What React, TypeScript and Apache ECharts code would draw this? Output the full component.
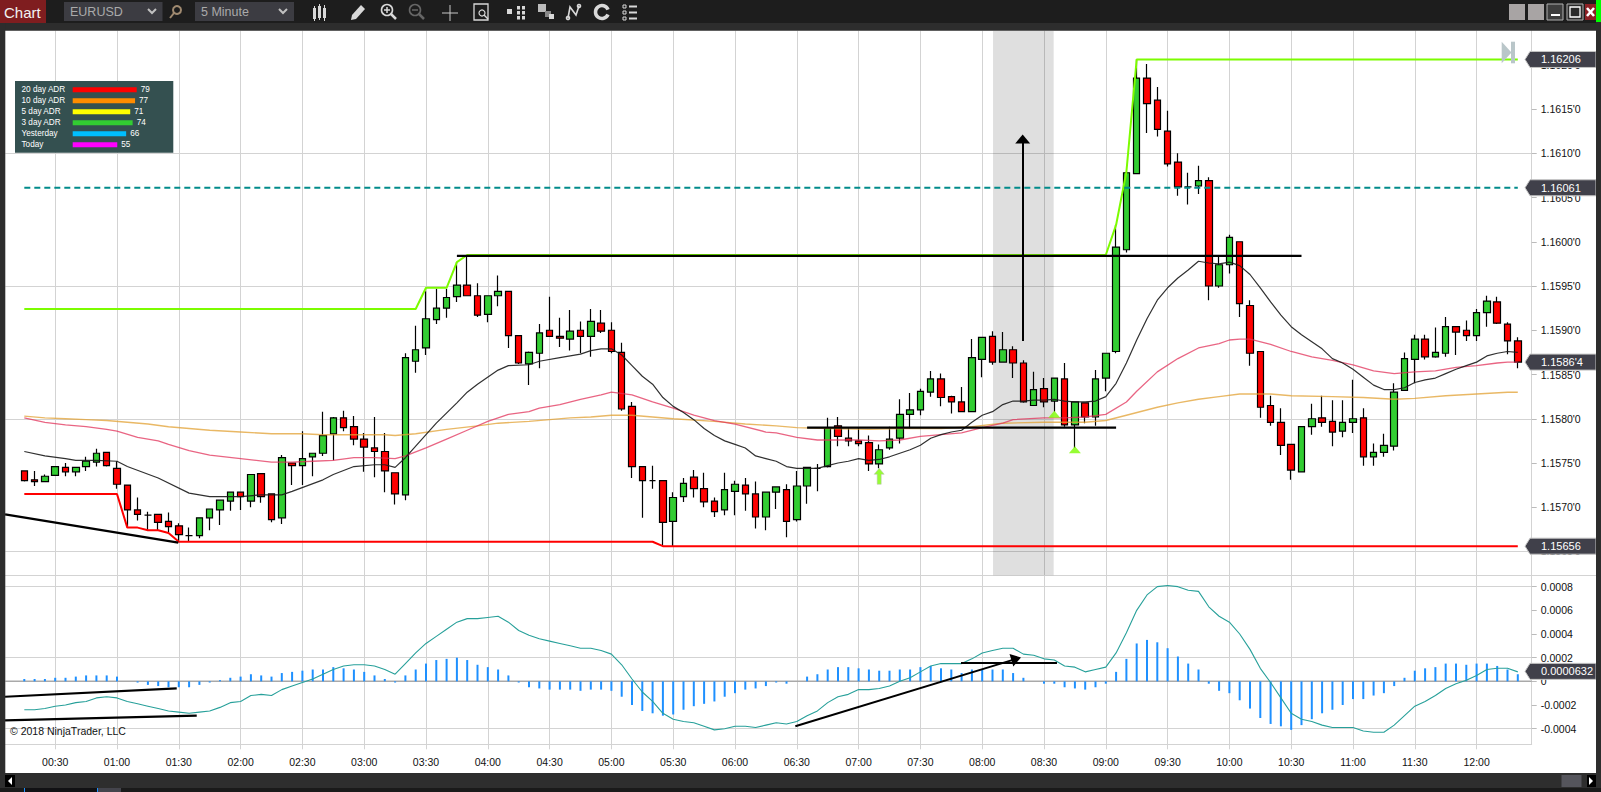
import React, { useEffect, useRef } from "react";
import * as echarts from "echarts";

// ---------- data ----------
const opens = [
1.15741,1.15731,1.15729,1.15736,1.15745,1.15740,1.15746,1.15751,1.15762,1.15744,
1.15725,1.15697,1.15691,1.15692,1.15684,1.15679,1.15668,1.15668,1.15688,1.15697,
1.15707,1.15717,1.15707,1.15738,1.15715,1.15688,1.15750,1.15747,1.15757,1.15761,
1.15783,1.15801,1.15791,1.15777,1.15767,1.15763,1.15739,1.15714,1.15865,1.15880,
1.15912,1.15925,1.15938,1.15951,1.15939,1.15918,1.15939,1.15944,1.15894,1.15862,
1.15874,1.15900,1.15893,1.15890,1.15900,1.15893,1.15908,1.15900,1.15875,1.15814,
1.15746,1.15730,1.15730,1.15684,1.15712,1.15734,1.15721,1.15707,1.15697,1.15718,
1.15725,1.15715,1.15689,1.15717,1.15720,1.15686,1.15724,1.15744,1.15746,1.15792,
1.15778,1.15775,1.15773,1.15749,1.15767,1.15778,1.15805,1.15810,1.15830,1.15845,
1.15825,1.15819,1.15808,1.15867,1.15893,1.15864,1.15878,1.15863,1.15815,1.15834,
1.15820,1.15845,1.15793,1.15818,1.15802,1.15846,1.15876,1.15991,1.16077,1.16185,
1.16160,1.16125,1.16090,1.16062,1.16063,1.16069,1.15950,1.15974,1.16000,1.15928,
1.15876,1.15815,1.15796,1.15771,1.15740,1.15791,1.15801,1.15797,1.15786,1.15796,
1.15801,1.15757,1.15762,1.15769,1.15832,1.15867,1.15890,1.15870,1.15874,1.15904,
1.15900,1.15894,1.15920,1.15932,1.15907,1.15888];
const closes = [
1.15730,1.15729,1.15735,1.15746,1.15740,1.15745,1.15752,1.15761,1.15747,1.15726,
1.15697,1.15692,1.15691,1.15683,1.15678,1.15669,1.15668,1.15688,1.15698,1.15708,
1.15717,1.15712,1.15737,1.15712,1.15686,1.15756,1.15747,1.15755,1.15761,1.15781,
1.15801,1.15790,1.15777,1.15768,1.15763,1.15741,1.15715,1.15869,1.15878,1.15913,
1.15925,1.15937,1.15951,1.15939,1.15917,1.15939,1.15944,1.15894,1.15863,1.15875,
1.15897,1.15893,1.15891,1.15899,1.15893,1.15910,1.15899,1.15876,1.15811,1.15746,
1.15730,1.15730,1.15683,1.15711,1.15727,1.15721,1.15706,1.15695,1.15720,1.15726,
1.15715,1.15689,1.15717,1.15723,1.15684,1.15724,1.15745,1.15744,1.15790,1.15780,
1.15775,1.15772,1.15749,1.15765,1.15777,1.15805,1.15810,1.15831,1.15845,1.15824,
1.15819,1.15808,1.15869,1.15892,1.15864,1.15878,1.15863,1.15819,1.15833,1.15819,
1.15846,1.15793,1.15819,1.15802,1.15845,1.15874,1.15994,1.16078,1.16185,1.16156,
1.16127,1.16088,1.16062,1.16062,1.16069,1.15950,1.15974,1.16005,1.15930,1.15874,
1.15813,1.15796,1.15770,1.15742,1.15791,1.15800,1.15796,1.15785,1.15796,1.15800,
1.15757,1.15762,1.15770,1.15830,1.15868,1.15890,1.15870,1.15875,1.15904,1.15898,
1.15894,1.15920,1.15933,1.15908,1.15888,1.15864];
const lows = [
1.15729,1.15724,1.15729,1.15736,1.15735,1.15735,1.15741,1.15746,1.15746,1.15721,
1.15677,1.15685,1.15674,1.15674,1.15672,1.15662,1.15661,1.15665,1.15674,1.15680,
1.15696,1.15697,1.15700,1.15705,1.15683,1.15681,1.15725,1.15725,1.15735,1.15758,
1.15753,1.15786,1.15770,1.15740,1.15734,1.15717,1.15703,1.15708,1.15852,1.15872,
1.15907,1.15914,1.15932,1.15939,1.15915,1.15909,1.15927,1.15880,1.15862,1.15838,
1.15857,1.15893,1.15881,1.15877,1.15874,1.15870,1.15897,1.15874,1.15809,1.15733,
1.15688,1.15721,1.15656,1.15656,1.15706,1.15711,1.15700,1.15689,1.15691,1.15691,
1.15696,1.15676,1.15674,1.15698,1.15666,1.15684,1.15704,1.15718,1.15745,1.15769,
1.15769,1.15769,1.15741,1.15744,1.15765,1.15772,1.15789,1.15804,1.15825,1.15814,
1.15806,1.15808,1.15808,1.15847,1.15861,1.15864,1.15846,1.15818,1.15815,1.15813,
1.15808,1.15791,1.15767,1.15795,1.15792,1.15831,1.15874,1.15988,1.16077,1.16123,
1.16119,1.16085,1.16052,1.16042,1.16054,1.15934,1.15948,1.15964,1.15915,1.15860,
1.15801,1.15792,1.15759,1.15731,1.15740,1.15782,1.15791,1.15769,1.15779,1.15784,
1.15747,1.15747,1.15757,1.15764,1.15832,1.15840,1.15867,1.15869,1.15870,1.15872,
1.15888,1.15888,1.15904,1.15907,1.15873,1.15857];
const highs = [
1.15741,1.15741,1.15737,1.15746,1.15750,1.15745,1.15757,1.15766,1.15762,1.15752,
1.15725,1.15711,1.15695,1.15692,1.15694,1.15682,1.15677,1.15688,1.15698,1.15708,
1.15717,1.15717,1.15737,1.15738,1.15715,1.15759,1.15750,1.15786,1.15761,1.15808,
1.15802,1.15809,1.15803,1.15784,1.15802,1.15784,1.15739,1.15874,1.15905,1.15944,
1.15947,1.15947,1.15977,1.15985,1.15953,1.15939,1.15962,1.15944,1.15894,1.15876,
1.15907,1.15938,1.15914,1.15923,1.15910,1.15924,1.15923,1.15909,1.15886,1.15819,
1.15746,1.15747,1.15730,1.15717,1.15733,1.15742,1.15739,1.15711,1.15739,1.15730,
1.15733,1.15729,1.15717,1.15723,1.15726,1.15741,1.15745,1.15749,1.15801,1.15802,
1.15790,1.15790,1.15781,1.15771,1.15791,1.15822,1.15829,1.15834,1.15854,1.15851,
1.15826,1.15836,1.15890,1.15892,1.15899,1.15898,1.15882,1.15866,1.15853,1.15846,
1.15846,1.15863,1.15819,1.15818,1.15855,1.15874,1.16019,1.16079,1.16206,1.16201,
1.16175,1.16148,1.16100,1.16078,1.16086,1.16073,1.15983,1.16008,1.16000,1.15934,
1.15876,1.15826,1.15812,1.15771,1.15791,1.15817,1.15826,1.15821,1.15821,1.15844,
1.15812,1.15772,1.15783,1.15840,1.15875,1.15895,1.15895,1.15903,1.15915,1.15904,
1.15911,1.15924,1.15939,1.15938,1.15909,1.15892];

// [bar number, value] readings of the moving averages
const blackMa: number[][] = [[0,1.15763],[2,1.15758],[4,1.15755],[5,1.15753],[7,1.15753],[9,1.15752],[10,1.15746],[13,1.15733],[16,1.15716],[18,1.15712],[21,1.15712],[23,1.15714],[25,1.15714],[26,1.15718],[29,1.15731],[30,1.15737],[32,1.15746],[34,1.15748],[35,1.15748],[36,1.15745],[37,1.15756],[39,1.15782],[40,1.15795],[42,1.15818],[43,1.15830],[44,1.15839],[46,1.15855],[47,1.15860],[49,1.15861],[50,1.15865],[52,1.15869],[54,1.15873],[55,1.15877],[56,1.15879],[57,1.15879],[58,1.15872],[59,1.15860],[60,1.15848],[61,1.15839],[62,1.15824],[63,1.15814],[64,1.15807],[65,1.15799],[66,1.15789],[67,1.15781],[68,1.15775],[69,1.15771],[70,1.15767],[71,1.15758],[72,1.15755],[73,1.15752],[74,1.15746],[75,1.15744],[76,1.15744],[77,1.15744],[78,1.15747],[79,1.15750],[80,1.15752],[81,1.15755],[82,1.15753],[83,1.15754],[84,1.15757],[85,1.15761],[86,1.15765],[87,1.15770],[88,1.15778],[89,1.15782],[90,1.15785],[91,1.15787],[92,1.15796],[93,1.15804],[94,1.15808],[95,1.15816],[96,1.15820],[97,1.15820],[98,1.15821],[99,1.15821],[100,1.15822],[101,1.15820],[102,1.15819],[103,1.15819],[104,1.15820],[105,1.15825],[106,1.15840],[107,1.15863],[108,1.15889],[109,1.15913],[110,1.15934],[111,1.15948],[112,1.15959],[113,1.15968],[114,1.15978],[115,1.15976],[116,1.15975],[117,1.15977],[118,1.15973],[119,1.15963],[120,1.15948],[121,1.15932],[122,1.15917],[123,1.15904],[124,1.15895],[125,1.15887],[126,1.15879],[127,1.15868],[128,1.15863],[129,1.15856],[130,1.15847],[131,1.15838],[132,1.15833],[133,1.15833],[134,1.15835],[135,1.15841],[136,1.15844],[137,1.15846],[138,1.15851],[139,1.15856],[140,1.15860],[141,1.15864],[142,1.15871],[143,1.15874],[144,1.15876],[145,1.15875]];
const crimsonMa: number[][] = [[0,1.15801],[2,1.15796],[4,1.15793],[6,1.15791],[8,1.15788],[9,1.15786],[11,1.15779],[13,1.15775],[14,1.15771],[16,1.15764],[18,1.15759],[21,1.15755],[24,1.15751],[26,1.15751],[28,1.15752],[30,1.15753],[32,1.15756],[34,1.15756],[36,1.15755],[37,1.15758],[39,1.15767],[41,1.15777],[43,1.15787],[45,1.15797],[47,1.15805],[49,1.15808],[50,1.15812],[52,1.15816],[54,1.15822],[56,1.15827],[57,1.15830],[59,1.15827],[61,1.15819],[63,1.15812],[65,1.15804],[67,1.15798],[69,1.15794],[72,1.15785],[73,1.15784],[75,1.15779],[77,1.15776],[79,1.15776],[81,1.15776],[83,1.15775],[85,1.15776],[87,1.15780],[89,1.15782],[91,1.15784],[93,1.15790],[95,1.15795],[96,1.15799],[99,1.15801],[101,1.15801],[103,1.15802],[105,1.15805],[107,1.15819],[108,1.15831],[110,1.15853],[112,1.15868],[114,1.15880],[116,1.15885],[117,1.15889],[118,1.15890],[119,1.15890],[121,1.15884],[123,1.15876],[125,1.15870],[127,1.15866],[129,1.15861],[131,1.15854],[133,1.15851],[135,1.15853],[137,1.15854],[139,1.15858],[141,1.15860],[143,1.15863],[144,1.15864],[145,1.15864]];
const orangeMa: number[][] = [[0,1.15803],[2,1.15801],[4,1.15800],[6,1.15799],[8,1.15798],[10,1.15796],[12,1.15794],[14,1.15791],[18,1.15787],[21,1.15785],[24,1.15783],[27,1.15783],[29,1.15782],[32,1.15782],[35,1.15782],[36,1.15781],[38,1.15783],[41,1.15788],[44,1.15792],[46,1.15795],[49,1.15797],[53,1.15801],[55,1.15802],[57,1.15804],[59,1.15804],[61,1.15802],[63,1.15800],[67,1.15797],[70,1.15794],[73,1.15792],[75,1.15790],[78,1.15789],[82,1.15788],[85,1.15789],[89,1.15789],[92,1.15791],[95,1.15795],[99,1.15796],[103,1.15796],[105,1.15798],[107,1.15804],[110,1.15813],[112,1.15818],[114,1.15822],[116,1.15825],[118,1.15828],[121,1.15828],[123,1.15826],[127,1.15825],[130,1.15824],[133,1.15822],[135,1.15823],[138,1.15826],[141,1.15828],[144,1.15830],[145,1.15830]];

const highOfDay: number[][] = [[0,1.15924],[38,1.15924],[39,1.15948],[41,1.15948],[42,1.15977],[43,1.15985],[105,1.15985],[106,1.16019],[107,1.16079],[108,1.16206],[145,1.16206]];
const lowOfDay: number[][] = [[0,1.15715],[9,1.15715],[10,1.15677],[11,1.15677],[12,1.15674],[13,1.15674],[14,1.15671],[15,1.15661],[61,1.15661],[62,1.15656],[145,1.15656]];
const dashedLevel: number[][] = [[0,1.16061],[145,1.16061]];

const macdHist = [
0.00002,0.00002,0.00002,0.00003,0.00003,0.00004,0.00005,0.00005,0.00005,0.00004,
0.00000,-0.00001,-0.00003,-0.00004,-0.00005,-0.00005,-0.00005,-0.00003,-0.00001,0.00001,
0.00003,0.00004,0.00006,0.00005,0.00004,0.00007,0.00008,0.00009,0.00010,0.00010,
0.00012,0.00011,0.00010,0.00008,0.00005,0.00002,-0.00001,0.00005,0.00010,0.00015,
0.00018,0.00019,0.00020,0.00018,0.00014,0.00012,0.00010,0.00005,-0.00001,-0.00005,
-0.00006,-0.00007,-0.00007,-0.00007,-0.00008,-0.00007,-0.00007,-0.00008,-0.00013,-0.00020,
-0.00025,-0.00027,-0.00029,-0.00028,-0.00024,-0.00021,-0.00019,-0.00017,-0.00013,-0.00010,
-0.00007,-0.00006,-0.00004,-0.00001,-0.00002,0.00000,0.00004,0.00006,0.00010,0.00012,
0.00012,0.00011,0.00010,0.00009,0.00009,0.00010,0.00010,0.00012,0.00013,0.00011,
0.00010,0.00007,0.00010,0.00010,0.00010,0.00010,0.00007,0.00003,0.00000,-0.00002,
-0.00002,-0.00005,-0.00006,-0.00007,-0.00005,-0.00002,0.00008,0.00019,0.00032,0.00035,
0.00033,0.00028,0.00021,0.00015,0.00010,-0.00002,-0.00008,-0.00010,-0.00016,-0.00023,
-0.00031,-0.00036,-0.00038,-0.00041,-0.00037,-0.00032,-0.00027,-0.00024,-0.00020,-0.00015,
-0.00015,-0.00012,-0.00010,-0.00004,0.00003,0.00009,0.00011,0.00012,0.00015,0.00015,
0.00014,0.00015,0.00015,0.00013,0.00010,0.00006];
const macdLine = [
-0.00024,-0.00024,-0.00023,-0.00021,-0.00020,-0.00018,-0.00017,-0.00014,-0.00013,-0.00014,
-0.00017,-0.00019,-0.00021,-0.00023,-0.00025,-0.00026,-0.00027,-0.00026,-0.00025,-0.00022,
-0.00018,-0.00017,-0.00012,-0.00011,-0.00012,-0.00007,-0.00004,-0.00001,0.00002,0.00006,
0.00010,0.00013,0.00014,0.00014,0.00013,0.00010,0.00006,0.00015,0.00024,0.00032,
0.00038,0.00044,0.00050,0.00053,0.00053,0.00054,0.00055,0.00050,0.00043,0.00039,
0.00036,0.00034,0.00032,0.00030,0.00028,0.00028,0.00026,0.00023,0.00014,0.00002,
-0.00009,-0.00017,-0.00027,-0.00032,-0.00034,-0.00035,-0.00038,-0.00041,-0.00040,-0.00038,
-0.00038,-0.00039,-0.00037,-0.00035,-0.00036,-0.00034,-0.00029,-0.00025,-0.00018,-0.00013,
-0.00011,-0.00007,-0.00007,-0.00006,-0.00004,0.00000,0.00003,0.00008,0.00013,0.00015,
0.00015,0.00015,0.00019,0.00024,0.00026,0.00028,0.00028,0.00023,0.00022,0.00019,
0.00018,0.00013,0.00012,0.00008,0.00010,0.00012,0.00024,0.00041,0.00060,0.00073,
0.00080,0.00081,0.00080,0.00077,0.00076,0.00063,0.00055,0.00050,0.00040,0.00027,
0.00011,-0.00001,-0.00014,-0.00027,-0.00032,-0.00034,-0.00037,-0.00039,-0.00039,-0.00039,
-0.00042,-0.00043,-0.00043,-0.00037,-0.00029,-0.00021,-0.00017,-0.00012,-0.00006,-0.00002,
0.00001,0.00005,0.00010,0.00011,0.00011,0.00008];

const timeLabels = ["00:30","01:00","01:30","02:00","02:30","03:00","03:30","04:00","04:30","05:00","05:30","06:00","06:30","07:00","07:30","08:00","08:30","09:00","09:30","10:00","10:30","11:00","11:30","12:00"];
const timeTicks = timeLabels.map((_, i) => 3 + i * 6);
const priceTicks = [1.1565,1.157,1.1575,1.158,1.1585,1.159,1.1595,1.16,1.1605,1.161,1.1615,1.162];
const priceGrid = [1.1565,1.158,1.1595,1.161];
const macdTicks = [-0.0004,-0.0002,0,0.0002,0.0004,0.0006,0.0008];
const macdGrid = [-0.0004,0.0002,0.0008];

const adrLabels = ["20 day ADR","10 day ADR","5 day ADR","3 day ADR","Yesterday","Today"];
const adrValues = [79,77,71,74,66,55];
const adrColors = ["#ff0000","#ff8c00","#ffff00","#32cd32","#00bfff","#ff00ff"];

const priceTags = [
  { value: 1.16206, text: "1.16206", nudge: 0 },
  { value: 1.16061, text: "1.16061", nudge: 0 },
  { value: 1.15864, text: "1.1586'4", nudge: 0 },
  { value: 1.15656, text: "1.15656", nudge: 0 },
];
const macdTag = { value: 0.0000632, text: "0.0000632", nudge: -2.5 };

// drawn objects, in bar number / value
const drawnPriceLines: number[][][] = [
  [[42,1.15984],[124,1.15984]],
  [[76,1.1579],[106,1.1579]],
  [[-1.87,1.15692],[14.95,1.1566]],
];
const drawnMacdLines: number[][][] = [
  [[-1.87,-0.00013],[14.8,-0.00006]],
  [[-1.87,-0.00033],[16.74,-0.00029]],
  [[90.94,0.000155],[100.26,0.000155]],
];
const priceArrow = [[96.93,1.15888],[96.93,1.16116]];
const macdArrow = [[74.86,-0.00038],[96.3,0.00019]];
const band = [94.05, 99.94];
const triangles = [[100,1.15805],[102,1.15765]];
const upArrows = [[83,1.15735]];

// ---------- layout ----------
const W = 1601, H = 792;
const plotL = 5.3, plotR = 1531.7;
const xMin = -1.845, xMax = 146.35;
const GRID = "#d3d3d3";
const FONT = "Liberation Sans, Arial, sans-serif";

const rect = (x: number, y: number, w: number, h: number, fill: string, extra: any = {}) => ({ type: "rect", z: 100, silent: true, shape: { x, y, width: w, height: h }, style: { fill, ...extra } });
const sline = (x1: number, y1: number, x2: number, y2: number, stroke: string, lineWidth = 1) => ({ type: "line", z: 101, silent: true, shape: { x1, y1, x2, y2 }, style: { stroke, lineWidth } });
const txt = (text: string, x: number, y: number, fill: string, size: number, align = "left", zz = 102) => ({ type: "text", z: zz, silent: true, style: { text, x, y, fill, font: `${size}px ${FONT}`, align, verticalAlign: "middle" } });
const circ = (cx: number, cy: number, r: number, stroke: string, lineWidth = 1.6) => ({ type: "circle", z: 101, silent: true, shape: { cx, cy, r }, style: { stroke, lineWidth, fill: "none" } });
const poly = (points: number[][], fill: string, stroke?: string, zz = 101) => ({ type: "polygon", z: zz, silent: true, shape: { points }, style: { fill, stroke, lineWidth: 1 } });
const pline = (points: number[][], stroke: string, lineWidth = 1.5) => ({ type: "polyline", z: 101, silent: true, shape: { points }, style: { stroke, lineWidth, fill: "none" } });

function frame(): any[] {
  const ic = "#d8d8d8";
  const els: any[] = [
    rect(0, 0, W, 23, "#1d1d1d"),
    rect(0, 23, W, 7.7, "#2d2d2d"),
    rect(0, 0, 5.3, H, "#2d2d2d"),
    rect(1596, 0, 5, H, "#2d2d2d"),
    rect(0, 773, W, 15, "#2e2e2e"),
    rect(0, 788, W, 4, "#1a1a1a"),
    rect(24, 788, 73, 4, "#111114"),
    rect(97, 788, 24, 4, "#44444c"),
    rect(24, 788, 1, 4, "#1e90ff"),
    rect(97, 788, 1, 4, "#1e90ff"),
    rect(1532, 575, 64, 1, GRID),
    // title
    rect(0, 0, 46, 23, "#7f1d1f"),
    txt("Chart", 4, 12, "#f2f2f2", 15),
    // instrument and period selectors
    rect(64, 2, 98.5, 19, "#3c3c42"),
    txt("EURUSD", 70, 12, "#aaaaaa", 12.5),
    pline([[148, 9], [152, 13], [156, 9]], "#c0c0c0", 2),
    circ(177, 10, 4, "#a08a70", 2),
    sline(174, 13, 170, 18, "#a08a70", 2),
    rect(195, 2, 99, 19, "#3c3c42"),
    txt("5 Minute", 201, 12, "#aaaaaa", 12.5),
    pline([[279, 9], [283, 13], [287, 9]], "#c0c0c0", 2),
    // candle icon
    rect(313, 8, 3, 11, ic), sline(314.5, 6, 314.5, 21, ic),
    rect(318, 6, 3, 12, ic), sline(319.5, 4, 319.5, 20, ic),
    rect(323, 8, 3, 10, ic), sline(324.5, 5, 324.5, 21, ic),
    // pencil
    poly([[351, 20], [352, 15], [361, 5], [365, 9], [356, 19]], ic),
    // zoom in, zoom out
    circ(387, 10, 5.5, ic), sline(384, 10, 390, 10, ic, 1.5), sline(387, 7, 387, 13, ic, 1.5), sline(391, 14, 396, 19, ic, 2.5),
    circ(415, 10, 5.5, "#666666"), sline(412, 10, 418, 10, "#666666", 1.5), sline(419, 14, 424, 19, "#666666", 2.5),
    // crosshair
    sline(442, 13, 458, 13, "#c8c8c8"), sline(450, 5, 450, 21, "#c8c8c8"),
    // document
    rect(474, 4, 14, 16, "#1d1d1d", { stroke: ic, lineWidth: 1.3 }),
    circ(482, 13, 3, ic, 1.2), sline(484, 15, 488, 19, ic, 1.5),
    // grid icon
    poly([[507, 9], [512, 9], [512, 14], [507, 14]], ic),
    ...[517, 522].flatMap((x) => [6, 11, 16].map((y) => rect(x, y, 3, 3.5, ic))),
    // layers
    rect(538, 4, 8, 8, "#bbbbbb"), rect(545, 11, 6, 6, "#888888"), rect(549, 14, 5, 5, ic),
    // drawing icon
    pline([[568, 18], [570, 7], [576, 15], [579, 6]], ic, 1.6),
    circ(568, 18, 1.5, ic), circ(579, 6, 1.5, ic),
    // refresh
    { type: "arc", z: 101, silent: true, shape: { cx: 602, cy: 12, r: 6.5, startAngle: 0.4, endAngle: 5.9 }, style: { stroke: ic, lineWidth: 3.5, fill: "none" } },
    // list
    ...[5, 11, 17].flatMap((y) => [rect(623, y, 3, 3, "#1d1d1d", { stroke: ic }), rect(629, y + 0.5, 8, 2, ic)]),
    // window buttons
    rect(1509, 4, 16, 16, "#a8a4a4"),
    rect(1528, 4, 16, 16, "#a8a4a4"),
    rect(1547, 4, 16, 16, "#3e3e3e", { stroke: "#b0b0b0" }),
    rect(1551, 14, 9, 2, "#ffffff"),
    rect(1567, 4, 16, 16, "#2a2a2a", { stroke: "#b0b0b0" }),
    rect(1570, 7, 10, 10, "none", { stroke: "#ffffff", lineWidth: 1.3 }),
    rect(1585, 4, 11, 16, "#8c2025"),
    sline(1587, 8, 1594, 16, "#ffffff", 2.5),
    sline(1594, 8, 1587, 16, "#ffffff", 2.5),
    rect(1596, 0, 5, 22, "#00ff00"),
    // scroll controls
    rect(5, 775, 10, 12, "#000000"),
    poly([[12, 777], [12, 785], [8, 781]], "#ffffff"),
    rect(1561.5, 775, 20, 12, "#55555c"),
    rect(1587, 775, 9, 12, "#000000"),
    poly([[1589, 777], [1589, 785], [1593, 781]], "#ffffff"),
    // end-of-chart marker
    poly([[1501.7, 41.7], [1511.5, 52.5], [1501.7, 63.3]], "#b9c6c9", undefined, 60),
    rect(1511, 41.7, 4, 21.6, "#b9c6c9", {}),
  ];
  // copyright
  els.push(txt("\u00a9 2018 NinjaTrader, LLC", 10, 730.5, "#111111", 10.5));
  // ADR table
  els.push(rect(15, 81, 158.3, 71.7, "#345050"));
  adrLabels.forEach((label, i) => {
    const y = 89.2 + i * 11;
    els.push(txt(label, 21.5, y, "#ffffff", 8.2, "left"));
    const w = adrValues[i] * 0.81;
    els.push(rect(72.7, y - 2, w, 5, adrColors[i]));
    els.push(txt(String(adrValues[i]), 72.7 + w + 4, y, "#ffffff", 8.2, "left"));
  });
  return els;
}

function tag(y: number, text: string): any[] {
  return [
    poly([[1525, y], [1530, y - 8], [1596, y - 8], [1596, y + 8], [1530, y + 8]], "#40404a", "#c4c4c4", 90),
    txt(text, 1541, y, "#ffffff", 11, "left", 91),
  ];
}

const lineSeries = (name: string, grid: number, data: number[][], color: string, width: number, extra: any = {}) => ({
  name,
  type: "line",
  xAxisIndex: grid,
  yAxisIndex: grid === 0 ? 0 : 1,
  data,
  showSymbol: false,
  silent: true,
  z: 4,
  lineStyle: { color, width, ...(extra.lineStyle || {}) },
  ...(extra.series || {}),
});

export default function App() {
  const ref = useRef<HTMLDivElement>(null);
  useEffect(() => {
    document.body.style.margin = "0";
    const chart = echarts.init(ref.current!, undefined, { renderer: "svg" });
    const bars = opens.map((o, i) => [i, o, closes[i], lows[i], highs[i]]);
    const hist = macdHist.map((v, i) => [i, v]);
    const macd = macdLine.map((v, i) => [i, v]);
    const option: any = {
      animation: false,
      backgroundColor: "#ffffff",
      textStyle: { fontFamily: FONT },
      grid: [
        { left: plotL, width: plotR - plotL, top: 30.7, height: 544.6 },
        { left: plotL, width: plotR - plotL, top: 575.3, height: 169 },
      ],
      xAxis: [
        {
          type: "value", gridIndex: 0, min: xMin, max: xMax, position: "bottom",
          axisLine: { show: true, onZero: false, lineStyle: { color: GRID } },
          axisTick: { show: false, customValues: timeTicks },
          axisLabel: { show: false, customValues: timeTicks },
          splitLine: { show: true, lineStyle: { color: GRID, width: 1 } },
        },
        {
          type: "value", gridIndex: 1, min: xMin, max: xMax, position: "bottom",
          axisLine: { show: true, onZero: false, lineStyle: { color: GRID } },
          axisTick: { show: true, length: 5, customValues: timeTicks, lineStyle: { color: GRID } },
          axisLabel: {
            show: true, customValues: timeTicks, margin: 12, color: "#111111", fontSize: 10.5, fontFamily: FONT,
            formatter: (v: number) => timeLabels[Math.round((v - 3) / 6)] ?? "",
          },
          splitLine: { show: true, lineStyle: { color: GRID, width: 1 } },
        },
      ],
      yAxis: [
        {
          type: "value", gridIndex: 0, position: "right", min: 1.156231, max: 1.162385,
          axisLine: { show: true, onZero: false, lineStyle: { color: GRID } },
          axisTick: { show: true, length: 5, customValues: priceTicks, lineStyle: { color: "#bbbbbb" } },
          axisLabel: {
            show: true, customValues: priceTicks, margin: 9, color: "#111111", fontSize: 10.5, fontFamily: FONT,
            formatter: (v: number) => v.toFixed(4) + "'0",
          },
          splitLine: { show: false },
        },
        {
          type: "value", gridIndex: 1, position: "right", min: -0.000532, max: 0.000896,
          axisLine: { show: true, onZero: false, lineStyle: { color: GRID } },
          axisTick: { show: true, length: 5, customValues: macdTicks, lineStyle: { color: "#bbbbbb" } },
          axisLabel: {
            show: true, customValues: macdTicks, margin: 9, color: "#111111", fontSize: 10.5, fontFamily: FONT,
            formatter: (v: number) => (Math.abs(v) < 1e-9 ? "0" : v.toFixed(4)),
          },
          splitLine: { show: false },
        },
        {
          type: "value", gridIndex: 0, position: "right", min: 1.156231, max: 1.162385,
          axisLine: { show: false }, axisTick: { show: false, customValues: priceGrid },
          axisLabel: { show: false, customValues: priceGrid },
          splitLine: { show: true, lineStyle: { color: GRID, width: 1 } },
        },
        {
          type: "value", gridIndex: 1, position: "right", min: -0.000532, max: 0.000896,
          axisLine: { show: false }, axisTick: { show: false, customValues: macdGrid },
          axisLabel: { show: false, customValues: macdGrid },
          splitLine: { show: true, lineStyle: { color: GRID, width: 1 } },
        },
      ],
      series: [
        {
          name: "session band", type: "line", xAxisIndex: 0, yAxisIndex: 0, data: [], silent: true, z: 1,
          markArea: {
            silent: true, z: 1,
            itemStyle: { color: "rgba(0,0,0,0.125)" },
            data: [[{ xAxis: band[0] }, { xAxis: band[1] }]],
          },
        },
        lineSeries("MACD zero", 1, [[xMin, 0], [xMax, 0]], "#a9a9a9", 1.5, { series: { z: 1 } }),
        {
          name: "EURUSD", type: "candlestick", xAxisIndex: 0, yAxisIndex: 0, data: bars, barWidth: 7, silent: true, z: 3,
          encode: { x: 0, y: [1, 2, 3, 4] },
          itemStyle: { color: "#32cd32", color0: "#ff0000", borderColor: "#000000", borderColor0: "#000000", borderColorDoji: "#000000", borderWidth: 1.2 },
        },
        lineSeries("SMA orange", 0, orangeMa, "rgba(226,160,50,0.75)", 1.4),
        lineSeries("SMA crimson", 0, crimsonMa, "rgba(226,50,90,0.75)", 1.3),
        lineSeries("SMA black", 0, blackMa, "rgba(25,25,25,0.9)", 1.2),
        lineSeries("Prior high", 0, highOfDay, "#7cfc00", 2),
        lineSeries("Prior low", 0, lowOfDay, "#ff0000", 2),
        lineSeries("Level", 0, dashedLevel, "#008b8b", 2, { lineStyle: { type: [6, 4] } }),
        ...drawnPriceLines.map((d, i) => lineSeries("drawn price " + i, 0, d, "#000000", 2.4, { series: { z: 6 } })),
        ...drawnMacdLines.map((d, i) => lineSeries("drawn macd " + i, 1, d, "#000000", 2.2, { series: { z: 6 } })),
        {
          name: "price arrow", type: "line", xAxisIndex: 0, yAxisIndex: 0, data: [], silent: true, z: 6,
          markLine: {
            silent: true, z: 6, animation: false, symbol: ["none", "triangle"], symbolSize: [15, 9],
            label: { show: false }, lineStyle: { color: "#000000", width: 2, type: "solid" },
            data: [[{ coord: priceArrow[0] }, { coord: priceArrow[1] }]],
          },
        },
        {
          name: "macd arrow", type: "line", xAxisIndex: 1, yAxisIndex: 1, data: [], silent: true, z: 6,
          markLine: {
            silent: true, z: 6, animation: false, symbol: ["none", "triangle"], symbolSize: [13, 10],
            label: { show: false }, lineStyle: { color: "#000000", width: 2, type: "solid" },
            data: [[{ coord: macdArrow[0] }, { coord: macdArrow[1] }]],
          },
        },
        {
          name: "triangles", type: "scatter", xAxisIndex: 0, yAxisIndex: 0, data: triangles, silent: true, z: 5,
          symbol: "triangle", symbolSize: [12, 7], itemStyle: { color: "#7cfc00" },
        },
        {
          name: "up arrows", type: "scatter", xAxisIndex: 0, yAxisIndex: 0, data: upArrows, silent: true, z: 5,
          symbol: "path://M5 0L10 6H7V16H3V6H0Z", symbolSize: [10, 16],
          itemStyle: { color: "#7cfc00", borderColor: "#b8b8b8", borderWidth: 0.6 },
        },
        {
          name: "MACD histogram", type: "bar", xAxisIndex: 1, yAxisIndex: 1, data: hist, barWidth: 2, silent: true, z: 2,
          itemStyle: { color: "#1e90ff" },
        },
        lineSeries("MACD", 1, macd, "#27a09a", 1.1),
      ],
    };
    chart.setOption(option);
    const tags: any[] = [];
    priceTags.forEach((t) => {
      const y = chart.convertToPixel({ yAxisIndex: 0 } as any, t.value) as unknown as number;
      tags.push(...tag(y + t.nudge, t.text));
    });
    const my = chart.convertToPixel({ yAxisIndex: 1 } as any, macdTag.value) as unknown as number;
    tags.push(...tag(my + macdTag.nudge, macdTag.text));
    chart.setOption({ graphic: { elements: [...frame(), ...tags] } });
    return () => chart.dispose();
  }, []);
  return <div ref={ref} style={{ position: "fixed", left: 0, top: 0, width: W, height: H }} />;
}
